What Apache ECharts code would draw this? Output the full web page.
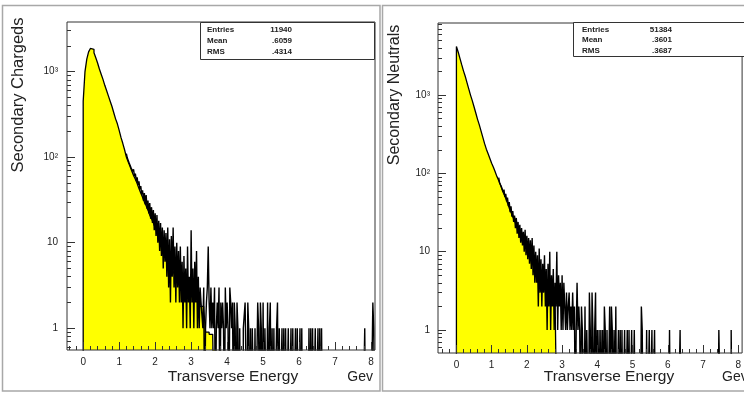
<!DOCTYPE html>
<html><head><meta charset="utf-8">
<script src="https://cdn.jsdelivr.net/npm/echarts@6/dist/echarts.min.js"></script>
<style>html,body{margin:0;padding:0;background:#fff}#c{width:744px;height:394px}</style>
</head><body><div id="c"></div>
<script>
// ---------- data ----------
const YBIN = 0.05;   // yellow histogram bin width
const BBIN = 0.025;  // black histogram bin width
const xTickValues = [0, 1, 2, 3, 4, 5, 6, 7, 8];
const xTickLabels = ['0', '1', '2', '3', '4', '5', '6', '7', '8'];
const yTickLabels = ['1', '10', '10²', '10³'];

const leftTitleY = 'Secondary Chargeds';
const rightTitleY = 'Secondary Neutrals';
const xTitle = 'Transverse Energy';
const xUnit = 'Gev';

const leftStats = [['Entries', '11940'], ['Mean', '.6059'], ['RMS', '.4314']];
const rightStats = [['Entries', '51384'], ['Mean', '.3601'], ['RMS', '.3687']];

// yellow filled histogram, counts per 0.05 bin starting at 0
const leftYellow = [450,1000,1400,1700,1860,1820,1660,1450,1260,1070,
  930,810,690,600,520,450,390,330,280,245,
  205,170,145,122,100,88,78,69,61,55,
  49,43,38,34,30,27,24,21,19,17,
  15,13.5,12,10.5,9.3,8.2,7.3,6.5,5.8,5.1,
  4.6,4.1,3.7,3.4,3.1,2.9,2.7,2.6,2.5,2.4,
  2.3,2.2,2.1,2.0,1.9,1.8,1.8,1.7,0.9,0.9,
  0.85,0.85,0.8];
// black histogram, counts per 0.025 bin from leftBlackStart
const leftBlackStart = 1.2;
const leftBlack = [110,98,96,86,88,76,79,68,72,60,
  64,53,58,47,52,42,46,37,41,31,
  38,28,36,25,31,22,29,19,26,17,
  24,14,22,12,21,10,18,8,17,7,
  15,5,14,6,13,4,15,3,11,2,
  12,4,15,3,9,2,10,3,8,2,
  9,2,6,1,7,2,5,1,9,2,
  4,1,14,2,5,1,6,2,8,1,
  4,1,3,2,2,1,3,0,1,2,
  3,9,2,1,3,1];
// sparse tail of the black histogram: [bin start, count]
const leftTail = [[3.600,2],[3.625,1],[3.650,3],[3.700,1],[3.725,2],[3.750,1],[3.775,3],[3.825,2],[3.850,1],[3.875,2],
  [3.900,1],[3.950,3],[3.975,1],[4.000,2],[4.025,1],[4.075,3],[4.100,2],[4.125,1],[4.150,2],[4.200,2],
  [4.225,1],[4.275,2],[4.300,1],[4.350,1],[4.450,1],[4.475,1],[4.500,2],[4.525,2],[4.575,2],[4.600,1],
  [4.650,1],[4.700,1],[4.725,1],[4.775,1],[4.850,2],[4.875,1],[4.925,2],[4.950,1],[5.000,2],[5.050,1],
  [5.075,1],[5.125,2],[5.175,1],[5.200,2],[5.250,1],[5.300,1],[5.375,1],[5.400,2],[5.450,1],[5.525,1],
  [5.575,1],[5.625,1],[5.700,1],[5.775,1],[5.825,1],[5.900,1],[5.950,1],[6.025,1],[6.075,1],[6.275,1],
  [6.325,1],[6.375,1],[6.450,1],[6.525,1],[6.575,1],[6.625,1],[7.825,1],[8.050,2],[8.075,1]];

const rightYellow = [4170,3550,2950,2450,2040,1740,1445,1200,1000,850,
  710,590,490,417,347,288,240,204,178,155,
  135,120,105,91,81,71,62,54,48,42,
  36,32,28,25,22,20,18,16.6,15,13.5,
  12.3,11.2,10.2,9.3,8.5,7.6,6.9,6.3,5.8,5.2,
  4.8,4.3,3.9,3.5,3.2,3.0,2.7];
const rightBlackStart = 1.2;
const rightBlack = [88,76,80,68,70,58,62,50,55,44,
  49,38,43,32,38,28,33,24,29,20,
  27,17,24,15,22,13,20,12,18,10,
  19,9,16,8,15,7,14,6,15,5,
  12,4,10,4,9,2,11,3,8,2,
  7,3,9,2,6,1,7,2,10,1,
  5,2,6,1,4,2,10,1,5,2,
  4,1];
const rightTail = [[3.000,5],[3.025,1],[3.050,4],[3.075,2],[3.100,1],[3.125,3],[3.150,1],[3.175,2],[3.200,3],[3.225,1],
  [3.250,2],[3.275,1],[3.300,3],[3.325,1],[3.350,2],[3.400,1],[3.425,4],[3.450,1],[3.475,2],[3.500,1],
  [3.550,2],[3.575,1],[3.600,1],[3.650,2],[3.700,1],[3.725,1],[3.775,3],[3.800,1],[3.850,3],[3.875,1],
  [3.925,1],[3.950,3],[4.000,1],[4.050,1],[4.100,1],[4.150,1],[4.200,2],[4.225,1],[4.275,1],[4.350,2],
  [4.400,2],[4.425,1],[4.475,1],[4.525,2],[4.600,1],[4.650,1],[4.700,1],[4.775,1],[4.850,1],[4.900,1],
  [4.975,1],[5.050,1],[5.250,2],[5.275,1],[5.400,1],[5.475,1],[5.550,1],[5.625,1],[6.050,1],[6.350,1],
  [7.450,1],[7.475,1],[7.800,1]];

// ---------- layout ----------
const FONT = '"Liberation Sans", Arial, sans-serif';
const L = { xMin: -0.45, xMax: 8.11, yMin: Math.log10(0.557), yMax: Math.log10(3793), xEnd: 8.10 };
const R = { xMin: -0.523, xMax: 8.11, yMin: -0.294, yMax: 3.921, xEnd: 8.10 };

function r3(v) { return Math.round(v * 1000) / 1000; }
function yellowPoints(vals, floor) {
  const pts = [[0, floor]];
  vals.forEach((v, i) => pts.push([r3(i * YBIN), Math.log10(v)]));
  pts.push([r3(vals.length * YBIN), floor]);
  return pts;
}
function blackPoints(start, dense, tail, xEnd, floor) {
  const n = Math.round((xEnd - start) / BBIN);
  const counts = new Array(n).fill(0);
  dense.forEach((v, i) => { counts[i] = v; });
  tail.forEach(([x, v]) => { counts[Math.round((x - start) / BBIN)] = v; });
  const pts = counts.map((v, i) => [r3(start + i * BBIN), v > 0 ? Math.log10(v) : floor]);
  pts.push([xEnd, floor]);
  return pts;
}
function minorX(min, max) {
  const out = [];
  for (let k = -5; k <= 45; k++) { const v = r3(k * 0.2); if (v > min && v < max && Math.abs(v - Math.round(v)) > 1e-6) out.push(v); }
  return out;
}
function minorY(min, max) {
  const out = [];
  for (let d = -1; d <= 4; d++) for (let m = 2; m <= 9; m++) { const v = Math.log10(m * Math.pow(10, d)); if (v > min && v < max) out.push(v); }
  return out;
}
function axesFor(gi, P, labelMargin) {
  const noLine = { show: false, onZero: false };
  const xs = [
    { gridIndex: gi, type: 'value', min: P.xMin, max: P.xMax, position: 'bottom', z: 10,
      axisLine: noLine, splitLine: { show: false },
      axisTick: { show: true, inside: true, length: 8, customValues: xTickValues, lineStyle: { color: '#333' } },
      axisLabel: { customValues: xTickValues, formatter: v => xTickLabels[xTickValues.indexOf(v)], margin: 7, fontSize: 10, fontFamily: FONT, color: '#222' } },
    { gridIndex: gi, type: 'value', min: P.xMin, max: P.xMax, position: 'bottom', z: 10,
      axisLine: noLine, splitLine: { show: false }, axisLabel: { show: false },
      axisTick: { show: true, inside: true, length: 4, customValues: minorX(P.xMin, P.xMax), lineStyle: { color: '#333' } } }
  ];
  const ys = [
    { gridIndex: gi, type: 'value', min: P.yMin, max: P.yMax, position: 'left', z: 10,
      axisLine: noLine, splitLine: { show: false },
      axisTick: { show: true, inside: true, length: 8, customValues: [0, 1, 2, 3], lineStyle: { color: '#333' } },
      axisLabel: { customValues: [0, 1, 2, 3], formatter: v => yTickLabels[Math.round(v)], margin: labelMargin, fontSize: 10, fontFamily: FONT, color: '#222' } },
    { gridIndex: gi, type: 'value', min: P.yMin, max: P.yMax, position: 'left', z: 10,
      axisLine: noLine, splitLine: { show: false }, axisLabel: { show: false },
      axisTick: { show: true, inside: true, length: 4, customValues: minorY(P.yMin, P.yMax), lineStyle: { color: '#333' } } }
  ];
  return { xs, ys };
}
const aL = axesFor(0, L, 9), aR = axesFor(1, R, 8);

function histSeries(xi, yi, P, yellow, bStart, black, tail) {
  const floor = P.yMin - 1;
  return [
    { type: 'line', xAxisIndex: xi, yAxisIndex: yi, step: 'end', symbol: 'none', clip: true, z: 2,
      data: yellowPoints(yellow, floor), lineStyle: { color: '#000', width: 1.3 },
      areaStyle: { color: '#ffff00', opacity: 1, origin: 'start' } },
    { type: 'line', xAxisIndex: xi, yAxisIndex: yi, step: 'end', symbol: 'none', clip: true, z: 3,
      data: blackPoints(bStart, black, tail, P.xEnd, floor), lineStyle: { color: '#000', width: 1.4 } }
  ];
}

function statsBox(x, y, w, h, rows, labelX, valueX, rowY) {
  const els = [{ type: 'rect', shape: { x: x, y: y, width: w, height: h }, style: { fill: '#fff', stroke: '#333', lineWidth: 1 }, z: 20 }];
  rows.forEach((r, i) => {
    els.push({ type: 'text', x: labelX, y: rowY[i], z: 21, style: { text: r[0], font: 'bold 8px ' + FONT, fill: '#222', align: 'left', verticalAlign: 'middle' } });
    els.push({ type: 'text', x: valueX, y: rowY[i], z: 21, style: { text: r[1], font: 'bold 8px ' + FONT, fill: '#222', align: 'right', verticalAlign: 'middle' } });
  });
  return els;
}

const graphics = [
  { type: 'rect', shape: { x: 2.5, y: 5.5, width: 377.5, height: 385.5 }, style: { fill: 'none', stroke: '#a8a8a8', lineWidth: 1.5 }, z: 30 },
  { type: 'rect', shape: { x: 382.5, y: 5.5, width: 372, height: 385.5 }, style: { fill: 'none', stroke: '#a8a8a8', lineWidth: 1.5 }, z: 30 },
  { type: 'text', x: 18, y: 95, rotation: Math.PI / 2, style: { text: leftTitleY, font: '16.5px ' + FONT, fill: '#222', align: 'center', verticalAlign: 'middle' } },
  { type: 'text', x: 395, y: 95, rotation: Math.PI / 2, style: { text: rightTitleY, font: '16px ' + FONT, fill: '#222', align: 'center', verticalAlign: 'middle' } },
  { type: 'text', x: 233, y: 377, style: { text: xTitle, font: '15.5px ' + FONT, fill: '#222', align: 'center', verticalAlign: 'middle' } },
  { type: 'text', x: 609, y: 377, style: { text: xTitle, font: '15.5px ' + FONT, fill: '#222', align: 'center', verticalAlign: 'middle' } },
  { type: 'text', x: 373, y: 377, style: { text: xUnit, font: '14px ' + FONT, fill: '#222', align: 'right', verticalAlign: 'middle' } },
  { type: 'text', x: 722, y: 377, style: { text: xUnit, font: '14px ' + FONT, fill: '#222', align: 'left', verticalAlign: 'middle' } }
].concat(
  statsBox(200.5, 22.5, 174, 37, leftStats, 207, 292, [30, 41, 52]),
  statsBox(573.5, 22.5, 200, 34, rightStats, 582, 672, [29.5, 40, 50.5])
);

const option = {
  animation: false,
  backgroundColor: '#fff',
  grid: [
    { left: 67, top: 22, width: 308, height: 328, show: true, borderColor: '#333', borderWidth: 1, backgroundColor: 'transparent', z: 10 },
    { left: 438, top: 23, width: 314, height: 330, show: true, borderColor: '#333', borderWidth: 1, backgroundColor: 'transparent', z: 10 }
  ],
  xAxis: aL.xs.concat(aR.xs),
  yAxis: aL.ys.concat(aR.ys),
  series: histSeries(0, 0, L, leftYellow, leftBlackStart, leftBlack, leftTail)
    .concat(histSeries(2, 2, R, rightYellow, rightBlackStart, rightBlack, rightTail)),
  graphic: { elements: graphics }
};
const chart = echarts.init(document.getElementById('c'), null, { renderer: 'canvas' });
chart.setOption(option);
</script></body></html>
